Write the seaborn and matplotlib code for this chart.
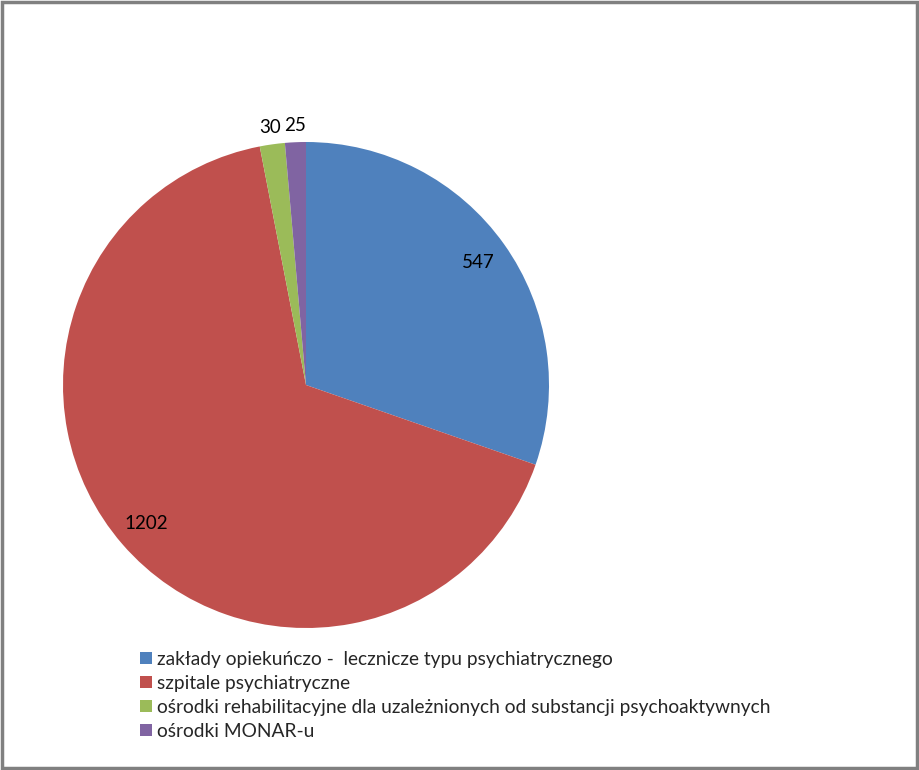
import numpy as np
import matplotlib
matplotlib.use("Agg")
import matplotlib.pyplot as plt
import seaborn as sns
from matplotlib.patches import Rectangle, Patch

categories = ["zakłady opiekuńczo -  lecznicze typu psychiatrycznego",
              "szpitale psychiatryczne",
              "ośrodki rehabilitacyjne dla uzależnionych od substancji psychoaktywnych",
              "ośrodki MONAR-u"]
values = [547, 1202, 30, 25]
colors = ["#4F81BD", "#C0504D", "#9BBB59", "#8064A2"]

sns.set_style("white")
plt.rcParams['font.family'] = ['Lato', 'DejaVu Sans']

fig = plt.figure(figsize=(9.19, 7.7), dpi=100)
ax = fig.add_axes([306/919 - 243/919, 0.5 - 243/770, 486/919, 486/770])

wedges, _ = ax.pie(values, colors=colors, startangle=90, counterclock=False,
                   wedgeprops=dict(linewidth=0))
ax.set_aspect('auto')
ax.set_xlim(-1, 1)
ax.set_ylim(-1, 1)

# data labels: inside for big slices, just outside for thin ones
total = sum(values)
for w, v in zip(wedges, values):
    mid = np.deg2rad((w.theta1 + w.theta2) / 2)
    dist = 0.87 if v / total > 0.05 else 1.07
    ax.text(dist * np.cos(mid), dist * np.sin(mid), str(v),
            ha='center', va='center', fontsize=13.5, color='black')

handles = [Patch(facecolor=c, edgecolor='none') for c in colors]
fig.legend(handles, categories, loc='upper left', bbox_to_anchor=(140/919, 1 - 651/770),
           frameon=False, fontsize=13.8, handlelength=0.6, handleheight=0.6,
           handletextpad=0.3, labelspacing=0.36, borderpad=0, borderaxespad=0)

fig.patches.append(Rectangle((0.002, 0.002), 0.996, 0.995, transform=fig.transFigure,
                             fill=False, edgecolor='#808080', linewidth=2.5))

fig.savefig("out.png", dpi=100)
